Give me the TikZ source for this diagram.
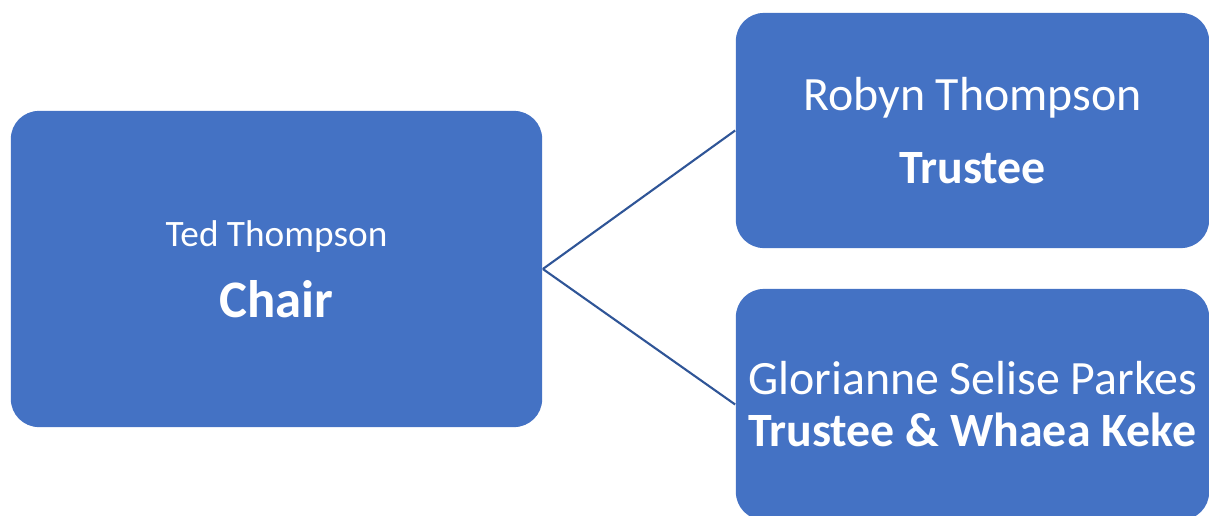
\documentclass[tikz,border=0pt]{standalone}
\usepackage{fontspec}
\setmainfont{Carlito}
\usepackage{xcolor}
\definecolor{boxblue}{HTML}{4472C4}
\definecolor{lineblue}{HTML}{2F5597}

\begin{document}
\begin{tikzpicture}[x=0.01cm,y=-0.01cm,
    member/.style={rectangle,
        fill=boxblue,
        rounded corners=0.28cm,
        text=white,
        align=center,
        inner sep=0pt},
    link/.style={lineblue,line width=0.6pt}]
    \useasboundingbox (0,0) rectangle (1209,515);
    \clip (0,0) rectangle (1209,515);

    % Chair
    \node [member,
        minimum width=5.31cm,
        minimum height=3.16cm,
        font=\fontsize{10.6}{20.2}\selectfont] (chair) at (276.5,269)
        {Ted Thompson\\
         \fontsize{15}{20.2}\selectfont\bfseries Chair};

    % Trustee
    \node [member,
        minimum width=4.73cm,
        minimum height=2.35cm,
        font=\fontsize{13.6}{20.8}\selectfont] (trustee) at (972.5,130.5)
        {Robyn Thompson\\
         \bfseries Trustee};

    % Trustee & Whaea Keke
    \node [member,
        minimum width=4.73cm,
        minimum height=2.31cm,
        font=\fontsize{13.6}{14.8}\selectfont] (whaea) at (972.5,404.5)
        {Glorianne Selise Parkes\\
         \bfseries Trustee \& Whaea Keke};

    % Connectors
    \draw[link] (chair.east) -- (trustee.west);
    \draw[link] (chair.east) -- (whaea.west);

\end{tikzpicture}
\end{document}
